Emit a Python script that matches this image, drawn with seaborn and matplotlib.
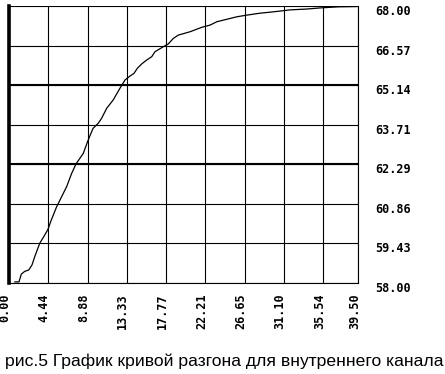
import matplotlib
matplotlib.use("Agg")
import matplotlib.pyplot as plt
from matplotlib.transforms import ScaledTranslation
import seaborn as sns
import pandas as pd

# --- data ---
time_vals = [0.64, 1.13, 1.39, 1.78, 2.23, 2.60, 2.91, 3.47, 4.04, 4.41, 4.78, 5.37,
             5.96, 6.52, 7.09, 7.58, 8.40, 8.93, 9.50, 10.10, 10.48, 11.05, 11.79,
             12.47, 13.12, 13.68, 14.14, 14.51, 15.01, 15.57, 16.14, 16.51, 17.45,
             18.01, 18.58, 19.15, 20.47, 21.79, 22.73, 23.49, 24.62, 25.75, 26.88,
             28.38, 29.89, 31.02, 31.78, 33.67, 35.17, 37.24, 39.35]
temp_vals = [58.04, 58.04, 58.32, 58.42, 58.47, 58.65, 58.95, 59.43, 59.73, 59.94, 60.27,
             60.74, 61.12, 61.48, 61.96, 62.30, 62.68, 63.14, 63.58, 63.77, 63.95, 64.31,
             64.61, 64.99, 65.33, 65.47, 65.57, 65.75, 65.91, 66.05, 66.17, 66.35, 66.53,
             66.63, 66.83, 66.95, 67.07, 67.23, 67.31, 67.43, 67.52, 67.61, 67.67, 67.74,
             67.79, 67.83, 67.86, 67.89, 67.93, 67.97, 67.98]
x_ticks = [0.00, 4.4425, 8.885, 13.3275, 17.77, 22.2125, 26.655, 31.0975, 35.54, 39.50]
x_tick_labels = ["0.00", "4.44", "8.88", "13.33", "17.77", "22.21", "26.65", "31.10", "35.54", "39.50"]
y_ticks = [58.0, 59.4286, 60.8571, 62.2857, 63.7143, 65.1429, 66.5714, 68.0]
y_tick_labels = ["58.00", "59.43", "60.86", "62.29", "63.71", "65.14", "66.57", "68.00"]
thick_y = [62.2857, 65.1429]
caption = "рис.5 График кривой разгона для внутреннего канала"

df = pd.DataFrame({"t": time_vals, "T": temp_vals})

sns.set_style("white")
plt.rcParams["font.family"] = ["DejaVu Sans"]

W, H, DPI = 445, 374, 100
fig = plt.figure(figsize=(W / DPI, H / DPI), dpi=DPI)
left, right, top, bottom = 9, 358.3, 6, 283
ax = fig.add_axes([left / W, 1 - bottom / H, (right - left) / W, (bottom - top) / H])

sns.lineplot(data=df, x="t", y="T", ax=ax, color="black", lw=0.9, estimator=None, sort=False)

ax.set_xlim(0, 39.5)
ax.set_ylim(58, 68)
ax.set_xlabel("")
ax.set_ylabel("")

ax.set_xticks(x_ticks)
ax.set_xticklabels(x_tick_labels, rotation=90, ha="center", va="top")
ax.set_yticks(y_ticks)
ax.set_yticklabels(y_tick_labels)
ax.yaxis.tick_right()
ax.tick_params(axis="both", length=0, colors="black")
ax.tick_params(axis="x", pad=7.2)
ax.tick_params(axis="y", pad=12)

lab_font = dict(family="DejaVu Sans Mono", weight="bold", size=8.5)
for lab in ax.get_xticklabels():
    lab.set(**lab_font)
    lab.set_transform(lab.get_transform() + ScaledTranslation(-4 / DPI, 0, fig.dpi_scale_trans))
for lab in ax.get_yticklabels():
    lab.set(**lab_font)
    lab.set_transform(lab.get_transform() + ScaledTranslation(0, -4 / DPI, fig.dpi_scale_trans))

ax.grid(True, color="black", lw=0.8)
for yv in thick_y:
    ax.axhline(yv, color="black", lw=1.5, zorder=1.5)

ax.spines["top"].set_visible(False)
ax.spines["left"].set_linewidth(2.6)
for s in ["right", "bottom"]:
    ax.spines[s].set_linewidth(0.8)
for s in ax.spines.values():
    s.set_color("black")

fig.text(224 / W, 1 - 366 / H, caption, ha="center", va="baseline",
         family="Liberation Sans", fontsize=12.6, color="black")

fig.savefig("out.png", dpi=DPI, facecolor="white")
